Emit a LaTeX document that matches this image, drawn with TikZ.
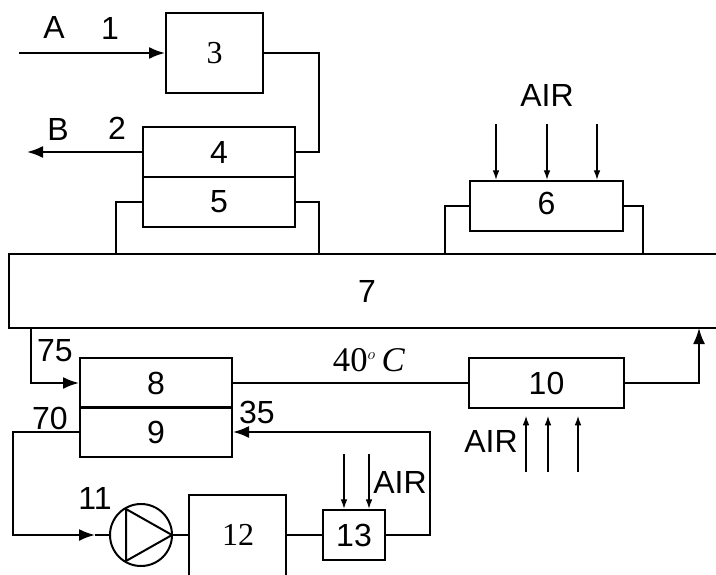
\documentclass[tikz,border=0pt]{standalone}
\usepackage{fontspec}
\setmainfont{Liberation Sans}
\newfontfamily\serifnum{Liberation Serif}
\usetikzlibrary{arrows.meta}
\tikzset{
  unit/.style={draw, line width=1.5pt, minimum width=#1, inner sep=0pt, font=\fontsize{24}{26}\selectfont},
  lbl/.style={inner sep=0pt, font=\fontsize{24}{26}\selectfont},
  flow/.style={line width=1.5pt, -{Latex[length=12pt,width=9pt]}},
  pipe/.style={line width=1.5pt},
  airflow/.style={line width=0.8pt, -{Latex[length=7pt,width=5pt]}}
}
\begin{document}
\begin{tikzpicture}[x=0.75pt,y=-0.75pt]
\useasboundingbox (0,0) rectangle (716,574);

\node[unit=72.75pt, minimum height=60pt, font=\serifnum\fontsize{24}{26}\selectfont] (3) at (214.5,53) {3};
\node[unit=114pt, minimum height=38pt] (4) at (219,152) {4};
\node[unit=114pt, minimum height=37.5pt, text depth=1.5pt] (5) at (219,202) {5};
\node[unit=114.75pt, minimum height=38pt, text depth=4.5pt] (6) at (546.5,206) {6};
\node[unit=537pt, minimum height=55.5pt] (7) at (367,291) {7};
\node[unit=114pt, minimum height=37.5pt] (8) at (156,383) {8};
\node[unit=114pt, minimum height=37.5pt] (9) at (156,432) {9};
\node[unit=116.25pt, minimum height=38pt] (10) at (546.5,383) {10};
\node[unit=47pt, minimum height=38pt] (13) at (354,535) {13};
\node[draw, circle, line width=1.5pt, minimum size=46.5pt, inner sep=0pt] (11) at (141,535) {};
\node[lbl, font=\serifnum\fontsize{24}{26}\selectfont] (12) at (238,535) {12};

% pump triangle
\draw[pipe] (126,509) -- (172,535) -- (126,561) -- cycle;
% box 12 runs off the page
\coordinate (p12a) at (189,535);
\coordinate (p12b) at (286,535);
\draw[pipe] (189,580) -- (189,495) -- (286,495) -- (286,580);

% labels
\node[lbl] (la) at (54,27) {A};
\node[lbl] (l1) at (110,28) {1};
\node[lbl] (lb) at (58,129) {B};
\node[lbl] (l2) at (117,128) {2};
\node[lbl] (lair1) at (547,95) {AIR};
\node[lbl] (l75) at (55,351) {75};
\node[lbl] (l70) at (50,418) {70};
\node[lbl] (l35) at (257,412) {35};
\node[lbl] (l11) at (95,498) {11};
\node[lbl] (lair2) at (400,482) {AIR};
\node[lbl] (lair3) at (491,441) {AIR};
\node[lbl, font=\serifnum\fontsize{26}{28}\selectfont] (ltemp) at (369,360) {40$^{\scriptscriptstyle o}$\,\textit{C}};

% free ends
\coordinate (ain) at (19,53);
\coordinate (bout) at (27,152);
\coordinate (c7l) at (31,328);
\coordinate (c7r) at (699,328);
\coordinate (c3) at (319,152);
\coordinate (c5l) at (116,254);
\coordinate (c5r) at (319,254);
\coordinate (c6l) at (445,254);
\coordinate (c6r) at (643,254);
\coordinate (c9) at (13,535);
\coordinate (c11) at (95,535);
\coordinate (c13) at (430,432);

\draw[flow] (ain) -- (3.west);
\draw[flow] (4.west) -- (bout);
\draw[pipe] (3.east) -| (c3) -- (4.east);
\draw[pipe] (5.west) -| (c5l);
\draw[pipe] (5.east) -| (c5r);
\draw[pipe] (6.west) -| (c6l);
\draw[pipe] (6.east) -| (c6r);
\draw[flow] (c7l) |- (8.west);
\draw[pipe] (8.east) -- (10.west);
\draw[flow] (10.east) -| (c7r);
\draw[flow] (9.west) -| (c9) -- (c11);
\draw[pipe] (c11) -- (11.west);
\draw[pipe] (11.east) -- (p12a);
\draw[pipe] (p12b) -- (13.west);
\draw[flow] (13.east) -| (c13) -- (9.east);

% air
\foreach \xa in {496,547,597}
  \draw[airflow] (\xa,124) -- (\xa,0 |- 6.north);
\foreach \xa in {526,548,578}
  \draw[airflow] (\xa,472) -- (\xa,416);
\foreach \xa in {344,369}
  \draw[airflow] (\xa,454) -- (\xa,0 |- 13.north);
\end{tikzpicture}
\end{document}
